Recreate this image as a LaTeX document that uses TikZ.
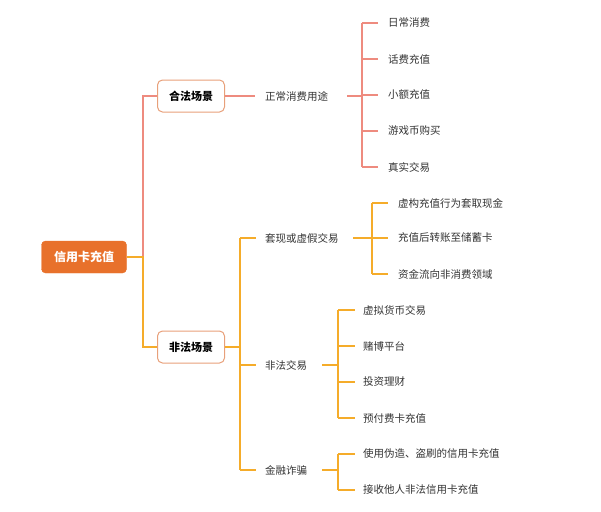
\documentclass[tikz,border=0pt]{standalone}
\usepackage{fontspec}
\setmainfont{Noto Sans CJK SC}
\definecolor{rootc}{HTML}{E8712B}
\definecolor{legal}{HTML}{EE8B7F}
\definecolor{illeg}{HTML}{F5AC2A}
\definecolor{boxb}{HTML}{E8A07A}
\definecolor{txt}{HTML}{333333}
\begin{document}
\begin{tikzpicture}[x=1pt,y=-1pt,
  rootbox/.style={fill=rootc,draw=rootc,rounded corners=4pt,minimum width=85pt,minimum height=32pt,text=white,font=\fontsize{12}{14}\selectfont\bfseries},
  catbox/.style={fill=white,draw=boxb,line width=1pt,rounded corners=5pt,minimum width=67pt,minimum height=32pt,text=black,font=\fontsize{11}{13}\selectfont\bfseries},
  item/.style={anchor=west,inner sep=0pt,text=txt,font=\fontsize{10.5}{12}\selectfont},
  lg/.style={draw=legal,line width=1.2pt},
  il/.style={draw=illeg,line width=1.2pt}]
\useasboundingbox (0,0) rectangle (601,511);
\node[rootbox] (root) at (84,257) {信用卡充值};
\node[catbox] (legal) at (191,96) {合法场景};
\node[catbox] (illegal) at (191,347) {非法场景};
\draw[lg] (root.east) -- (143,257) -- (143,96) -- (legal.west);
\draw[il] (root.east) -- (143,257) -- (143,347) -- (illegal.west);
% legal
\node[item] (norm) at (265,96) {正常消费用途};
\draw[lg] (legal.east) -- (255,96);
\draw[lg] (347,96) -- (362,96);
\draw[lg] (362,23) -- (362,167);
\foreach \t/\y [count=\i] in {日常消费/23,话费充值/59,小额充值/95,游戏币购买/131,真实交易/167}{
  \node[item] (l\i) at (388,\y) {\t};
  \draw[lg] (362,\y) -- (378,\y);
}
% illegal
\draw[il] (illegal.east) -- (240,347);
\draw[il] (240,238) -- (240,470);
\node[item] (tx) at (265,238) {套现或虚假交易};
\node[item] (ff) at (265,365) {非法交易};
\node[item] (jr) at (265,470) {金融诈骗};
\foreach \y in {238,365,470}{\draw[il] (240,\y) -- (256,\y);}
\draw[il] (353,238) -- (372,238);
\draw[il] (372,203) -- (372,274);
\foreach \t/\y [count=\i] in {虚构充值行为套取现金/203,充值后转账至储蓄卡/238,资金流向非消费领域/274}{
  \node[item] (a\i) at (398,\y) {\t};
  \draw[il] (372,\y) -- (388,\y);
}
\draw[il] (322,365) -- (338,365);
\draw[il] (338,310) -- (338,418);
\foreach \t/\y [count=\i] in {虚拟货币交易/310,赌博平台/346,投资理财/382,预付费卡充值/418}{
  \node[item] (b\i) at (363,\y) {\t};
  \draw[il] (338,\y) -- (355,\y);
}
\draw[il] (322,470) -- (338,470);
\draw[il] (338,454) -- (338,490);
\foreach \t/\y [count=\i] in {使用伪造、盗刷的信用卡充值/454,接收他人非法信用卡充值/490}{
  \node[item] (c\i) at (363,\y) {\t};
  \draw[il] (338,\y) -- (355,\y);
}
\end{tikzpicture}
\end{document}
